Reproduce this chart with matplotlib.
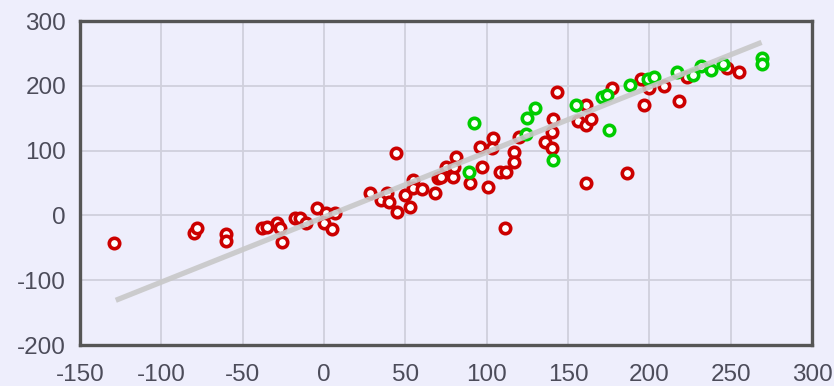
import matplotlib.pyplot as plt

plt.rcParams['axes.unicode_minus'] = False

# red series
red_x = [-129, -80, -78, -60, -60, -38, -35, -29, -27, -18, -26, -15, -11, -4, 1, 0, 5, 7,
         28, 35, 39, 40, 45, 44, 50, 53, 55, 55, 60, 68, 70, 75, 79, 81, 80, 72, 90, 96, 97,
         101, 104, 103, 108, 112, 117, 117, 120, 111, 141, 140, 136, 140, 143, 156, 161, 161,
         164, 177, 161, 186, 195, 197, 200, 209, 218, 223, 248, 255]
red_y = [-42, -27, -20, -29, -39, -19, -18, -11, -19, -4, -41, -4, -11, 12, 4, -11, -21, 4,
         35, 24, 35, 21, 5, 97, 32, 13, 55, 43, 40, 35, 58, 74, 60, 90, 75, 59, 50, 106, 74,
         44, 120, 104, 67, 67, 98, 83, 121, -20, 148, 128, 114, 104, 191, 145, 171, 140,
         148, 197, 50, 66, 210, 171, 197, 199, 176, 213, 228, 222]

# green series
green_x = [89, 92, 124, 125, 130, 141, 155, 171, 174, 175, 188, 199, 203, 217, 227, 232,
           238, 245, 269, 269]
green_y = [67, 143, 125, 150, 166, 86, 171, 182, 186, 132, 202, 210, 213, 222, 217, 230,
           225, 233, 243, 233]

# trend line end points
trend_x = [-128, 269]
trend_y = [-131, 267]

bg = '#EEEEFC'
fig = plt.figure(figsize=(8.34, 3.86), dpi=100, facecolor=bg)
ax = fig.add_axes([80 / 834, 1 - 345 / 386, 732 / 834, 324 / 386], facecolor=bg)

ax.grid(True, color='#D0D0DC', linewidth=1.3)
ax.set_axisbelow(True)

ax.plot(red_x, red_y, 'o', markersize=7.5, markerfacecolor='white',
        markeredgecolor='#CC0000', markeredgewidth=2.6, zorder=3)
ax.plot(green_x, green_y, 'o', markersize=7.5, markerfacecolor='white',
        markeredgecolor='#00CC00', markeredgewidth=2.6, zorder=4)
ax.plot(trend_x, trend_y, color='#C8C8C8', linewidth=3.8, alpha=0.9,
        solid_capstyle='butt', zorder=5)

ax.set_xlim(-150, 300)
ax.set_ylim(-200, 300)
ax.set_xticks(range(-150, 301, 50))
ax.set_yticks(range(-200, 301, 100))

for s in ax.spines.values():
    s.set_color('#555555')
    s.set_linewidth(2.4)

ax.tick_params(length=0, labelsize=17.5, labelcolor='#4C4C5A')
ax.tick_params(axis='x', pad=14)
ax.tick_params(axis='y', pad=10)
for lbl in ax.get_xticklabels() + ax.get_yticklabels():
    lbl.set_family('Liberation Sans')

fig.savefig('out.png', dpi=100, facecolor=bg)
